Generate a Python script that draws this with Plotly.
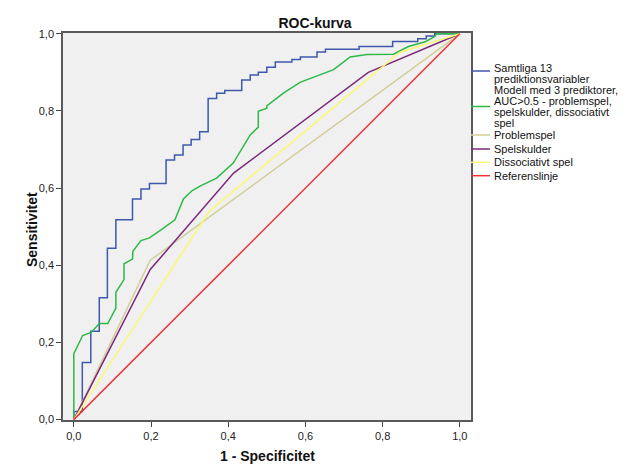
import plotly.graph_objects as go

# ---- data ----
series_names = [
    "Samtliga 13 prediktionsvariabler",
    "Modell med 3 prediktorer, AUC>0.5 - problemspel, spelskulder, dissociativt spel",
    "Problemspel",
    "Spelskulder",
    "Dissociativt spel",
    "Referenslinje",
]

# Samtliga 13 (step curve, vertical-then-horizontal)
fpr_all = [0, 0.022, 0.044, 0.066, 0.087, 0.109, 0.152, 0.174, 0.196, 0.239, 0.261,
           0.283, 0.304, 0.326, 0.348, 0.370, 0.391, 0.435, 0.457, 0.478, 0.500,
           0.522, 0.565, 0.587, 0.630, 0.652, 0.739, 0.826, 0.891, 0.913, 0.935, 1.0]
tpr_all = [0, 0.021, 0.148, 0.229, 0.316, 0.444, 0.518, 0.572, 0.598, 0.612, 0.673,
           0.686, 0.712, 0.726, 0.746, 0.832, 0.846, 0.853, 0.880, 0.893, 0.900,
           0.913, 0.927, 0.933, 0.940, 0.953, 0.960, 0.967, 0.980, 0.987, 0.994, 1.0]

# Modell med 3 prediktorer
fpr_m3 = [0, 0, 0.023, 0.045, 0.066, 0.088, 0.109, 0.109, 0.130, 0.130, 0.152, 0.153,
          0.174, 0.196, 0.226, 0.262, 0.284, 0.306, 0.327, 0.370, 0.413, 0.457, 0.478,
          0.478, 0.500, 0.500, 0.543, 0.586, 0.673, 0.716, 0.759, 0.828, 0.867, 0.891,
          0.912, 0.935, 0.940, 1.0]
tpr_m3 = [0, 0.171, 0.218, 0.226, 0.249, 0.249, 0.289, 0.330, 0.363, 0.404, 0.416, 0.436,
          0.464, 0.471, 0.492, 0.518, 0.572, 0.593, 0.605, 0.626, 0.665, 0.738, 0.758,
          0.799, 0.807, 0.813, 0.846, 0.874, 0.907, 0.940, 0.946, 0.947, 0.967, 0.973,
          0.980, 0.993, 1.0, 1.0]

# Problemspel
fpr_prob = [0, 0.198, 1.0]
tpr_prob = [0, 0.413, 1.0]

# Spelskulder
fpr_skuld = [0, 0.198, 0.414, 0.763, 1.0]
tpr_skuld = [0, 0.389, 0.639, 0.900, 1.0]

# Dissociativt spel
fpr_diss = [0, 0.351, 0.845, 1.0]
tpr_diss = [0, 0.540, 0.952, 1.0]

# Referenslinje
fpr_ref = [0, 1]
tpr_ref = [0, 1]

tick_vals = [0, 0.2, 0.4, 0.6, 0.8, 1.0]
tick_text = ["0,0", "0,2", "0,4", "0,6", "0,8", "1,0"]

legend_lines = [
    ["Samtliga 13", "prediktionsvariabler"],
    ["Modell med 3 prediktorer,", "AUC>0.5 - problemspel,", "spelskulder, dissociativt", "spel"],
    ["Problemspel"],
    ["Spelskulder"],
    ["Dissociativt spel"],
    ["Referenslinje"],
]

colors = ["#3E58AC", "#2EB848", "#D3CE97", "#7C287D", "#FBF873", "#EF3338"]

FONT = "Liberation Sans, Arial, sans-serif"

fig = go.Figure()
curves = [
    (fpr_all, tpr_all, "vh"),
    (fpr_m3, tpr_m3, "linear"),
    (fpr_prob, tpr_prob, "linear"),
    (fpr_skuld, tpr_skuld, "linear"),
    (fpr_diss, tpr_diss, "linear"),
    (fpr_ref, tpr_ref, "linear"),
]
for (xs, ys, shp), name, col in zip(curves, series_names, colors):
    fig.add_trace(go.Scatter(x=xs, y=ys, mode="lines", name=name,
                             line=dict(color=col, width=1.5, shape=shp),
                             showlegend=False))

# ---- layout ----
# page body has an 8px margin; compensate so the plot lands where the reference has it
OFF = 8
PAGE_W, PAGE_H = 629, 466
W, H = PAGE_W - OFF, PAGE_H - OFF
PL, PR, PT, PB = 63, 471, 33, 420          # plot area in page pixels (reference)
L, R, T, B = PL - OFF, PAGE_W - PR, PT - OFF, PAGE_H - PB
PW, PH = PR - PL, PB - PT


def px_x(p):
    return (p - PL) / PW


def px_y(p):
    return (PB - p) / PH


fig.update_layout(
    width=W, height=H,
    margin=dict(l=L, r=R, t=T, b=B, pad=0),
    paper_bgcolor="white",
    plot_bgcolor="#F0F0F0",
    font=dict(family=FONT, size=11, color="#222222"),
    title=dict(text="<b>ROC-kurva</b>", x=(315 - OFF) / W, xref="container", xanchor="center",
               y=1 - (23 - OFF) / H, yref="container", yanchor="middle",
               font=dict(family=FONT, size=14, color="#111111")),
    showlegend=False,
)

axis_common = dict(
    tickvals=tick_vals, ticktext=tick_text,
    ticks="outside", ticklen=5, tickwidth=1, tickcolor="#444444",
    showgrid=False, zeroline=False,
    showline=True, linecolor="#5a5a5a", linewidth=1.5, mirror=True,
    tickfont=dict(family=FONT, size=11, color="#222222"),
)
fig.update_xaxes(range=[-0.028, 1.029], **axis_common)
fig.update_yaxes(range=[-0.001, 1.002], **axis_common)

# axis titles
fig.add_annotation(text="<b>1 - Specificitet</b>", xref="paper", yref="paper",
                   x=px_x(267), y=px_y(456), showarrow=False,
                   xanchor="center", yanchor="middle",
                   font=dict(family=FONT, size=14, color="#111111"))
fig.add_annotation(text="<b>Sensitivitet</b>", xref="paper", yref="paper",
                   x=px_x(32), y=px_y(230), showarrow=False, textangle=-90,
                   xanchor="center", yanchor="middle",
                   font=dict(family=FONT, size=14, color="#111111"))

# custom legend (to match compact SPSS spacing)
legend_marker_y = [71, 106.5, 135, 149, 162.3, 175.7]
legend_text_y = [[67.7, 78.5], [90, 101.3, 112.3, 123], [135.5], [149], [162.3], [175.7]]
for col, my, lines, tys in zip(colors, legend_marker_y, legend_lines, legend_text_y):
    fig.add_shape(type="line", xref="paper", yref="paper",
                  x0=px_x(471), x1=px_x(490), y0=px_y(my), y1=px_y(my),
                  line=dict(color=col, width=1.5))
    for txt, ty in zip(lines, tys):
        fig.add_annotation(text=txt, xref="paper", yref="paper",
                           x=px_x(492), y=px_y(ty), showarrow=False,
                           xanchor="left", yanchor="middle",
                           font=dict(family=FONT, size=11, color="#111111"))

fig.write_html("out.html")
